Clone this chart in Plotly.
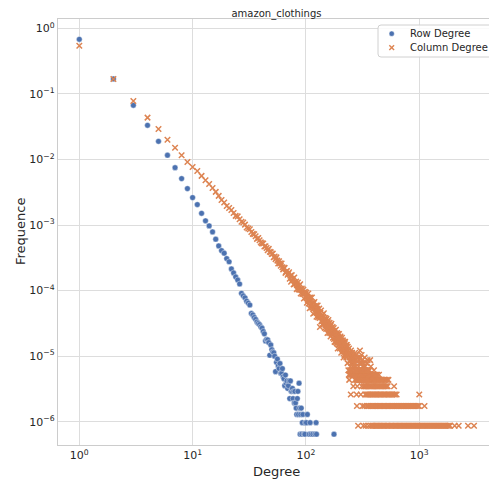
import plotly.graph_objects as go

# Degree distributions of the amazon_clothings interaction matrix
row_total = 3_100_000
col_total = 1_150_000

row_degree = [
    1, 2, 3, 4, 5, 6, 7, 8, 9, 10, 11, 12, 13, 14, 15, 16, 17, 18, 19, 20,
    21, 22, 23, 24, 25, 26, 27, 28, 29, 30, 31, 32, 33, 34, 35, 36, 37, 38, 39, 40,
    41, 42, 43, 44, 45, 46, 47, 48, 49, 50, 51, 52, 53, 54, 55, 56, 57, 58, 59, 60,
    61, 62, 63, 64, 65, 66, 67, 68, 69, 70, 71, 72, 73, 74, 75, 76, 77, 78, 79, 80,
    81, 82, 83, 84, 85, 86, 87, 88, 89, 90, 91, 92, 93, 94, 96, 98, 99, 101, 103,
    107, 109, 111, 115, 120, 123, 124, 177,
]
row_count = [
    2108000, 523900, 207700, 102900, 58590, 35960, 23250, 15810, 11130, 8122,
    6355, 4681, 3596, 3007, 2434, 1885, 1488, 1262, 1153, 955,
    853, 663, 577, 502, 450, 391, 282, 258, 241, 214,
    200, 187, 139, 132, 121, 113, 103, 98, 94, 87,
    83, 74, 68, 53, 56, 55, 50, 32, 46, 39,
    36, 35, 31, 18, 25, 28, 22, 20, 24, 17,
    17, 20, 15, 14, 11, 16, 12, 13, 10, 11,
    13, 7, 13, 9, 9, 10, 7, 9, 6, 9,
    6, 5, 4, 7, 9, 4, 12, 5, 2, 4, 5, 2, 3, 4, 2, 2, 3, 3, 4,
    2, 3, 2, 2, 2, 3, 2, 2,
]

# column degrees 1..235, every degree present
col_head_count = [
    624450, 194350, 89700, 49910, 33580, 23000, 17365, 13340, 10534, 8844,
    7682, 6463, 5543, 4865, 4232, 3680, 3197, 2772,
    2534, 2237, 2087, 1954, 1748, 1584, 1559, 1409, 1288, 1255, 1165, 1051,
    1020, 991, 900, 843, 832, 774, 707, 729, 675, 625, 604, 600, 541, 546,
    513, 473, 498, 451, 443, 415,
    421, 370, 380, 347, 369, 329, 297, 322, 299, 275,
    298, 261, 242, 256, 255, 214, 225, 229, 201, 209,
    219, 174, 193, 157, 198, 167, 175, 143, 182, 145,
    153, 158, 121, 138, 153, 120, 137, 119, 144, 104,
    118, 124, 102, 105, 119, 87, 106, 110, 90, 93,
    107, 75, 93, 81, 104, 73, 89, 62, 80, 90,
    64, 71, 90, 63, 75, 51, 74, 62, 77, 53,
    63, 55, 68, 46, 61, 54, 68, 45, 54, 47,
    61, 44, 32, 53, 45, 57, 39, 47, 35, 49,
    40, 45, 35, 52, 38, 41, 31, 44, 34, 41,
    30, 43, 34, 37, 26, 38, 31, 41, 29, 33,
    26, 37, 29, 33, 23, 34, 26, 36, 25, 29,
    25, 32, 22, 28, 25, 31, 21, 26, 19, 28,
    22, 25, 19, 29, 22, 25, 18, 26, 19, 22,
    15, 25, 20, 23, 17, 25, 18, 21, 15, 22,
    18, 23, 16, 19, 13, 20, 17, 22, 15, 18,
    14, 20, 15, 18, 11, 19, 14, 16, 12, 18,
    14, 19, 12, 16, 13, 17, 11, 16, 14, 17,
    12, 14, 9, 16, 12,
]

# sparse upper part of the column tail (count >= 8)
col_mid_degree = [
    236, 238, 240, 243, 244, 246, 247, 250, 251, 253, 255, 256, 258, 259, 261,
    264, 265, 267, 268, 270, 272, 274, 276, 278, 287, 292, 295, 297, 300, 303,
    307, 310, 314, 317, 322, 327, 330, 335, 345, 350, 369, 374,
]
col_mid_count = [
    14, 12, 15, 11, 13, 10, 8, 14, 9, 11, 10, 13, 8, 11, 9,
    12, 10, 8, 11, 9, 13, 10, 8, 12, 11, 8, 10, 9, 14, 11,
    9, 12, 10, 8, 9, 8, 11, 8, 9, 10, 10, 8,
]

# column degrees seen exactly k times (k = 1..7)
col_seen_1 = [
    289, 321, 337, 358, 375, 385, 394, 404, 414, 424, 435, 446, 458, 470, 483,
    496, 510, 524, 539, 554, 569, 585, 601, 617, 634, 651, 668, 686, 704, 723,
    742, 762, 782, 803, 824, 846, 868, 891, 915, 939, 964, 989, 1015, 1042,
    1069, 1097, 1126, 1156, 1186, 1217, 1249, 1282, 1316, 1350, 1385, 1421,
    1458, 1496, 1535, 1575, 1616, 1658, 1701, 1745, 1790, 1836, 1870, 2057,
    2232, 2697, 3047,
]
col_seen_2 = [
    282, 316, 328, 344, 354, 362, 373, 382, 391, 401, 412, 422, 433, 445, 457,
    469, 482, 495, 509, 523, 538, 552, 567, 582, 598, 614, 630, 647, 664, 681,
    699, 717, 736, 755, 775, 795, 816, 837, 859, 881, 904, 927, 951, 975, 996,
    1114,
]
col_seen_3 = [
    249, 280, 305, 334, 343, 352, 360, 371, 381, 390, 400, 410, 420, 432, 444,
    456, 468, 481, 494, 508, 522, 537, 551, 566, 581, 597, 613, 632, 1001,
]
col_seen_4 = [
    262, 284, 311, 323, 329, 336, 342, 351, 359, 367, 376, 384, 393, 402, 411,
    421, 431, 443, 454, 466, 479, 492, 506, 517, 527, 600,
]
col_seen_5 = [
    241, 271, 279, 285, 290, 294, 298, 302, 308, 313, 319, 325, 332, 339, 347,
    355, 363, 372, 380, 389, 398, 408, 418, 429, 440, 452, 464, 477, 490, 504,
    519, 535,
]
col_seen_6 = [
    239, 242, 248, 254, 260, 263, 269, 275, 281, 286, 291, 296, 301, 306, 312,
    318, 324, 331, 338, 346, 353, 361, 370, 378, 387, 396, 406, 416, 427, 442,
]
col_seen_7 = [
    237, 245, 252, 257, 266, 273, 277, 283, 288, 293, 299, 304, 309, 315, 320,
    326, 333, 340, 348, 356, 365, 399,
]

series_names = ["Row Degree", "Column Degree"]
x_tick_vals = [1, 10, 100, 1000]
x_tick_text = ["10<sup>0</sup>", "10<sup>1</sup>", "10<sup>2</sup>", "10<sup>3</sup>"]
y_tick_vals = [1e-6, 1e-5, 1e-4, 1e-3, 1e-2, 1e-1, 1]
y_tick_text = ["10<sup>\u22126</sup>", "10<sup>\u22125</sup>", "10<sup>\u22124</sup>",
               "10<sup>\u22123</sup>", "10<sup>\u22122</sup>", "10<sup>\u22121</sup>",
               "10<sup>0</sup>"]

# assemble the column series
col_degree = list(range(1, len(col_head_count) + 1)) + col_mid_degree
col_count = list(col_head_count) + col_mid_count
for k, degs in enumerate([col_seen_1, col_seen_2, col_seen_3, col_seen_4,
                          col_seen_5, col_seen_6, col_seen_7], start=1):
    col_degree += degs
    col_count += [k] * len(degs)
assert len(set(col_degree)) == len(col_degree)

row_freq = [c / row_total for c in row_count]
col_freq = [c / col_total for c in col_count]

BLUE = "#4C72B0"
ORANGE = "#DD8452"
FONT = "DejaVu Sans"
TXT = "#262626"
W, H = 489, 481
L, R, T, B = 58, 0, 19, 36
PW, PH = W - L - R, H - T - B


def px_x(px):
    """pixel column -> paper x"""
    return (px - L) / PW


def px_y(py):
    """pixel row -> paper y"""
    return 1 - (py - T) / PH


fig = go.Figure()
fig.add_trace(go.Scatter(
    x=row_degree, y=row_freq, mode="markers", name=series_names[0],
    marker=dict(symbol="circle", size=5.7, color=BLUE,
                line=dict(width=0.4, color="white")),
))
fig.add_trace(go.Scatter(
    x=col_degree, y=col_freq, mode="markers", name=series_names[1],
    marker=dict(symbol="x-thin", size=5.5, color=ORANGE,
                line=dict(width=1.5, color=ORANGE)),
))

fig.update_layout(
    width=W, height=H,
    margin=dict(l=L, r=R, t=T, b=B, autoexpand=False),
    paper_bgcolor="white", plot_bgcolor="white",
    font=dict(family=FONT, size=10, color=TXT),
    showlegend=False,
    title=dict(text="amazon_clothings", x=276.5 / W, y=1 - 13 / H,
               xanchor="center", yanchor="middle",
               font=dict(size=10, color=TXT, family=FONT)),
)
fig.update_xaxes(
    type="log", range=[-0.188, 3.616],
    tickvals=x_tick_vals, ticktext=x_tick_text,
    showgrid=True, gridcolor="#dddddd", gridwidth=1,
    showline=True, linecolor="#cccccc", linewidth=1.2, mirror=True,
    ticks="", zeroline=False, tickfont=dict(size=11, color=TXT),
    automargin=False,
)
fig.update_yaxes(
    type="log", range=[-6.355, 0.142],
    tickvals=y_tick_vals, ticktext=y_tick_text,
    showgrid=True, gridcolor="#dddddd", gridwidth=1,
    showline=True, linecolor="#cccccc", linewidth=1.2, mirror=False,
    ticks="", zeroline=False, tickfont=dict(size=11, color=TXT),
    automargin=False,
)

# axis titles
fig.add_annotation(text="Degree", xref="paper", yref="paper",
                   x=px_x(276.5), y=px_y(472),
                   xanchor="center", yanchor="middle", showarrow=False,
                   font=dict(size=13, color=TXT, family=FONT))
fig.add_annotation(text="Frequence", xref="paper", yref="paper",
                   x=px_x(20), y=0.5, textangle=-90,
                   xanchor="center", yanchor="middle", showarrow=False,
                   font=dict(size=13, color=TXT, family=FONT))

# legend panel (rounded box, glyphs and labels)
bx0, bx1, by0, by1, rr = 378, 492, 25, 57, 3
box_path = (
    f"M{px_x(bx0 + rr)},{px_y(by0)} L{px_x(bx1 - rr)},{px_y(by0)} "
    f"Q{px_x(bx1)},{px_y(by0)} {px_x(bx1)},{px_y(by0 + rr)} "
    f"L{px_x(bx1)},{px_y(by1 - rr)} "
    f"Q{px_x(bx1)},{px_y(by1)} {px_x(bx1 - rr)},{px_y(by1)} "
    f"L{px_x(bx0 + rr)},{px_y(by1)} "
    f"Q{px_x(bx0)},{px_y(by1)} {px_x(bx0)},{px_y(by1 - rr)} "
    f"L{px_x(bx0)},{px_y(by0 + rr)} "
    f"Q{px_x(bx0)},{px_y(by0)} {px_x(bx0 + rr)},{px_y(by0)} Z"
)
fig.add_shape(type="path", path=box_path, xref="paper", yref="paper",
              line=dict(color="#d0d0d0", width=1),
              fillcolor="rgba(255,255,255,0.85)", layer="above")
gx, gy_row, gy_col = 391.7, 33.7, 47.7
fig.add_shape(type="circle", xref="paper", yref="paper",
              x0=px_x(gx - 2.6), x1=px_x(gx + 2.6),
              y0=px_y(gy_row + 2.6), y1=px_y(gy_row - 2.6),
              fillcolor=BLUE, line=dict(color="white", width=0.4), layer="above")
for sx in (-1, 1):
    fig.add_shape(type="line", xref="paper", yref="paper",
                  x0=px_x(gx - 2.4), x1=px_x(gx + 2.4),
                  y0=px_y(gy_col - 2.4 * sx), y1=px_y(gy_col + 2.4 * sx),
                  line=dict(color=ORANGE, width=1.4), layer="above")
for name, gy in zip(series_names, (gy_row, gy_col)):
    fig.add_annotation(text=name, xref="paper", yref="paper",
                       x=px_x(408), y=px_y(gy), xanchor="left", yanchor="middle",
                       showarrow=False,
                       font=dict(size=10, color=TXT, family=FONT))

fig.write_html("out.html")
